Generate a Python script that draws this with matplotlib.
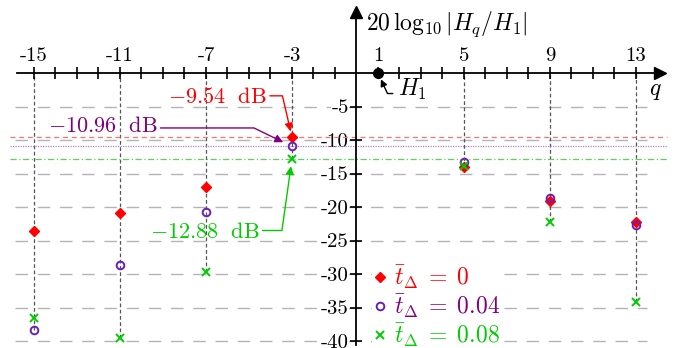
import numpy as np
import matplotlib
matplotlib.use("Agg")
import matplotlib.pyplot as plt

plt.rcParams["mathtext.fontset"] = "cm"
plt.rcParams["font.family"] = "cmr10"
plt.rcParams["axes.unicode_minus"] = False
plt.rcParams["axes.formatter.use_mathtext"] = True

# ----- data -----
q = [-15, -11, -7, -3, 5, 9, 13]
h_t0 = [-23.6, -20.9, -17.0, -9.54, -14.0, -19.1, -22.3]
h_t004 = [-38.4, -28.7, -20.8, -10.96, -13.3, -18.6, -22.7]
h_t008 = [-36.5, -39.5, -29.7, -12.88, -13.9, -22.2, -34.1]

x_labeled = [-15, -11, -7, -3, 1, 5, 9, 13]
y_ticks = [-5, -10, -15, -20, -25, -30, -35, -40]

RED = "#ff0000"
PURPLE = "#800080"
VIOLET = "#6a1fb8"
GREEN = "#00cc00"

fig = plt.figure(figsize=(6.86, 3.48), dpi=100)
ax = fig.add_axes([0, 0, 1, 1])
ax.set_xlim(-16.58, 15.33)
ax.set_ylim(-41.04, 10.9)

# ----- axes through the origin -----
for s in ["right", "bottom"]:
    ax.spines[s].set_visible(False)
ax.spines["top"].set_position(("data", 0))
ax.spines["left"].set_position(("data", 0))
ax.spines["top"].set_bounds(-15.8, 14.0)
ax.spines["left"].set_bounds(-40.6, 9.0)
ax.spines["top"].set_linewidth(1.3)
ax.spines["left"].set_linewidth(1.3)
ax.plot([14.1], [0], marker=">", color="k", markersize=8, clip_on=False, zorder=5)
ax.plot([0], [9.1], marker="^", color="k", markersize=8, clip_on=False, zorder=5)

ax.xaxis.set_ticks_position("top")
ax.set_xticks(x_labeled)
ax.set_xticklabels([str(v) for v in x_labeled])
ax.set_xticks([v for v in range(-15, 14) if v != 0], minor=True)
ax.tick_params(axis="x", which="both", direction="inout", length=9, width=1.2,
               labelsize=15, pad=1)
ax.set_yticks(y_ticks)
ax.set_yticklabels([str(v) for v in y_ticks])
ax.tick_params(axis="y", direction="inout", length=9, width=1.2, labelsize=15, pad=1)
for lab in ax.get_yticklabels():
    lab.set_bbox(dict(facecolor="white", edgecolor="none", pad=0))

# ----- grid and guide lines -----
ax.hlines(y_ticks, -15.9, 13.5, colors="#b4b4b4", linewidth=1.0,
          linestyles=(0, (9, 7)), zorder=0)
ax.vlines(q, [min(a, b, c) for a, b, c in zip(h_t0, h_t004, h_t008)], 0,
          colors="#555555", linewidth=0.9, linestyles=(0, (3, 2)), zorder=1)
ax.axhline(h_t0[3], xmin=0.015, xmax=0.972, color="#ff7070", lw=0.9, ls=(0, (4, 3)))
ax.axhline(h_t004[3], xmin=0.015, xmax=0.972, color="#b080e0", lw=0.9, ls=(0, (1, 1)))
ax.axhline(h_t008[3], xmin=0.015, xmax=0.972, color="#60d060", lw=0.9, ls=(0, (5, 2, 1, 2)))

# ----- data markers -----
ax.plot(q, h_t0, ls="none", marker="D", ms=5, color=RED, zorder=4,
        label=r"$\bar{t}_\Delta\;=\;0$")
ax.plot(q, h_t004, ls="none", marker="o", ms=5.5, mfc="none", mec=VIOLET, mew=1.4,
        zorder=4, label=r"$\bar{t}_\Delta\;=\;0.04$")
ax.plot(q, h_t008, ls="none", marker="x", ms=6, color=GREEN, mew=1.4, zorder=4,
        label=r"$\bar{t}_\Delta\;=\;0.08$")

# ----- fundamental -----
ax.plot([1], [0], marker="o", ms=7, color="k", zorder=6, clip_on=False)
ax.annotate(r"$H_1$", xy=(1, 0), xytext=(1.95, -2.5), fontsize=17, va="center", ha="left",
            arrowprops=dict(arrowstyle="-|>", color="k", lw=1.0, shrinkA=2, shrinkB=5,
                            relpos=(0, 0.35), mutation_scale=10,
                            connectionstyle="angle,angleA=180,angleB=-65,rad=0"))

ax.text(0.45, 7.3, r"$20\,\log_{10}|H_q/H_1|$", fontsize=17, va="center", ha="left")
ax.text(13.9, -2.6, r"$q$", fontsize=17, va="center", ha="center")

# ----- dB annotations at q = -3 -----
ax.annotate(r"$-9.54\ \ \mathrm{dB}$", xy=(-3, h_t0[3]), xytext=(-6.45, -3.55),
            color=RED, fontsize=16, ha="center", va="center",
            arrowprops=dict(arrowstyle="-|>", color=RED, lw=1.0, shrinkA=0, shrinkB=4,
                            relpos=(1, 0.55), mutation_scale=12,
                            connectionstyle="angle,angleA=0,angleB=103,rad=0"))
ax.annotate(r"$-10.96\ \ \mathrm{dB}$", xy=(-3, h_t004[3]), xytext=(-11.8, -7.9),
            color=PURPLE, fontsize=16, ha="center", va="center",
            arrowprops=dict(arrowstyle="-|>", color=PURPLE, lw=1.0, shrinkA=0, shrinkB=7,
                            relpos=(1, 0.4), mutation_scale=12,
                            connectionstyle="angle,angleA=0,angleB=154,rad=0"))
ax.annotate(r"$-12.88\ \ \mathrm{dB}$", xy=(-3, h_t008[3]), xytext=(-7.05, -23.8),
            color=GREEN, fontsize=16, ha="center", va="center",
            arrowprops=dict(arrowstyle="-|>", color=GREEN, lw=1.0, shrinkA=0, shrinkB=5,
                            relpos=(1, 0.6), mutation_scale=12,
                            connectionstyle="angle,angleA=0,angleB=-98,rad=0"))

leg = ax.legend(loc="upper left", bbox_to_anchor=(0.542, 0.25), frameon=True,
                fontsize=17, handlelength=0.5, handletextpad=0.35, labelspacing=0.05,
                borderpad=0.1, borderaxespad=0, fancybox=False)
leg.get_frame().set_edgecolor("none")
leg.get_frame().set_facecolor("white")
leg.get_frame().set_alpha(1)
for txt, c in zip(leg.get_texts(), [RED, PURPLE, GREEN]):
    txt.set_color(c)

fig.savefig("out.png", dpi=100)
